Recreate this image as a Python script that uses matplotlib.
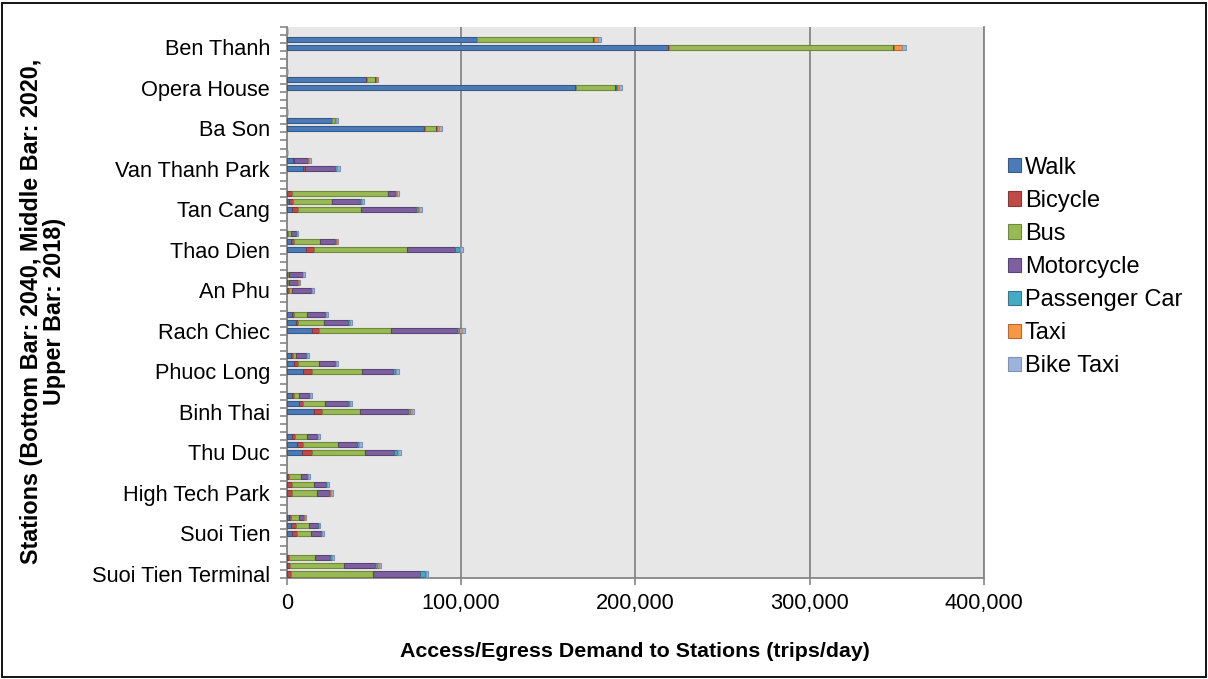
import matplotlib
matplotlib.use("Agg")
import matplotlib.pyplot as plt
from matplotlib.patches import Rectangle
import numpy as np

plt.rcParams['font.family'] = ['Liberation Sans', 'DejaVu Sans']

# ESTACIONES Y MODOS
estaciones = ["Ben Thanh", "Opera House", "Ba Son", "Van Thanh Park", "Tan Cang",
              "Thao Dien", "An Phu", "Rach Chiec", "Phuoc Long", "Binh Thai",
              "Thu Duc", "High Tech Park", "Suoi Tien", "Suoi Tien Terminal"]
anios = ["2018", "2020", "2040"]
modos = ["Walk", "Bicycle", "Bus", "Motorcycle", "Passenger Car", "Taxi", "Bike Taxi"]

# DEMANDA (miles de viajes/dia), por estacion: (2018, 2020, 2040)
walk = [(0, 109, 218.6), (0, 45.5, 165.6), (0, 25.8, 78.8), (0, 3.4, 9.2),
        (0.3, 1.5, 3.0), (0.5, 2.7, 10.9), (0.3, 0.2, 0.3), (3.2, 5.1, 14.5),
        (2.7, 4.2, 9.2), (3.0, 7.1, 15.7), (3.0, 5.7, 8.6), (0.3, 0.3, 0.3),
        (1.3, 2.5, 2.8), (0.2, 0.3, 0.3)]
bicycle = [(0, 0.3, 0.5), (0, 0.3, 0.3), (0, 0.2, 0.3), (0, 0.6, 1.1),
           (2.7, 1.9, 3.7), (0.3, 1.5, 4.6), (0.5, 0.3, 0.8), (1.2, 1.6, 4.2),
           (0.7, 2.3, 5.3), (1.2, 2.4, 4.4), (1.8, 3.6, 5.7), (1.0, 2.6, 2.7),
           (1.2, 2.6, 2.9), (0.9, 1.6, 2.2)]
bus = [(0, 66.5, 128.7), (0, 5.0, 22.6), (0, 1.5, 6.7), (0, 0.2, 0.3),
       (55.1, 22.4, 35.9), (1.7, 14.9, 53.5), (0.7, 0.6, 1.7), (7.4, 14.5, 41.1),
       (1.7, 12.2, 28.5), (2.9, 12.3, 22.0), (6.8, 20.1, 30.8), (6.9, 13.0, 14.2),
       (4.6, 7.5, 8.2), (15.1, 31.1, 47.2)]
motorcycle = [(0, 0.3, 0.5), (0, 0.4, 0.5), (0, 0.3, 0.4), (0, 8.0, 17.3),
              (3.9, 16.3, 31.4), (3.0, 8.8, 27.8), (7.7, 5.4, 11.1), (10.0, 14.2, 38.1),
              (6.0, 8.8, 17.8), (5.9, 13.2, 27.7), (6.0, 11.1, 16.5), (3.6, 6.6, 7.3),
              (2.8, 5.2, 5.6), (8.6, 17.6, 26.8)]
car = [(0, 0.3, 0.2), (0, 0.2, 0.3), (0, 0.1, 0.2), (0, 0.3, 0.8),
       (0.9, 1.1, 1.1), (0.2, 0.6, 1.9), (0.3, 0.2, 0.6), (0.5, 0.7, 1.1),
       (0.3, 0.8, 1.2), (0.3, 0.9, 1.1), (0.3, 1.0, 1.5), (0.3, 0.6, 0.6),
       (0.3, 0.5, 0.6), (1.2, 1.4, 3.0)]
taxi = [(0, 2.0, 4.3), (0, 0.5, 1.2), (0, 0.6, 1.2), (0, 0.2, 0.3),
        (0.3, 0.2, 1.0), (0.1, 0.2, 0.9), (0.1, 0.1, 0.2), (0.2, 0.2, 1.4),
        (0.1, 0.2, 0.9), (0.1, 0.2, 1.0), (0.2, 0.2, 1.0), (0.1, 0.2, 0.2),
        (0.1, 0.1, 0.1), (0.1, 0.8, 0.4)]
bike_taxi = [(0, 1.8, 2.6), (0, 0.5, 1.9), (0, 0.9, 1.3), (0, 1.0, 1.3),
             (1.3, 1.1, 1.3), (0.6, 0.7, 1.7), (0.8, 0.7, 0.7), (1.0, 1.0, 1.9),
             (1.1, 0.9, 1.5), (0.9, 1.2, 1.3), (1.2, 1.3, 1.3), (1.2, 1.1, 1.1),
             (1.0, 0.9, 1.0), (1.2, 1.3, 1.4)]

colores = ['#4A7BB7', '#BE4B48', '#98B954', '#7D60A0', '#46AAC5', '#F79646', '#9DB3D9']
bordes = ['#34598A', '#8C3533', '#6E8A3A', '#594475', '#32798F', '#B86A2C', '#7F93B5']

datos = [walk, bicycle, bus, motorcycle, car, taxi, bike_taxi]

# POSICIONES: 5 ranuras por estacion (3 barras + 2 vacias)
slot = 5
fig = plt.figure(figsize=(12.08, 6.79), dpi=100)
ax = fig.add_axes([286.7 / 1208, 1 - 578 / 679, (984 - 286.7) / 1208, (578 - 27) / 679])
ax.set_facecolor('#E7E7E7')

for k in range(len(anios)):
    y = np.arange(len(estaciones)) * slot + k
    izquierda = np.zeros(len(estaciones))
    for m in range(len(modos)):
        valores = np.array([d[k] for d in datos[m]]) * 1000
        ax.barh(y, valores, left=izquierda, height=0.64, color=colores[m],
                edgecolor=bordes[m], linewidth=0.8,
                label=modos[m] if k == 0 else None, zorder=3)
        izquierda += valores

n = len(estaciones)
ax.set_ylim((n - 1) * slot + 2.5, -0.5)
ax.set_xlim(0, 400000)
ax.set_yticks(np.arange(n) * slot + 2)
ax.set_yticklabels(estaciones, fontsize=15.7)
ax.set_yticks(np.arange(-0.5, (n - 1) * slot + 3, 1), minor=True)
ax.tick_params(axis='y', which='major', length=0, pad=12)
ax.tick_params(axis='y', which='minor', length=5, width=1.2, color='#868686', direction='out')
ax.set_xticks([0, 100000, 200000, 300000, 400000])
ax.set_xticklabels([f"{v:,}" for v in [0, 100000, 200000, 300000, 400000]], fontsize=15.7)
ax.tick_params(axis='x', length=5, width=1.2, color='#868686', pad=6)

ax.grid(axis='x', color='#868686', linewidth=1.3, zorder=1)
ax.set_axisbelow(True)
ax.spines['top'].set_visible(False)
for lado in ['left', 'bottom', 'right']:
    ax.spines[lado].set_color('#868686')
    ax.spines[lado].set_linewidth(1.3)

ax.set_xlabel("Access/Egress Demand to Stations (trips/day)", fontsize=15.4,
              fontweight='bold', labelpad=20)
fig.text(43 / 1208, 1 - 311 / 679,
         "Stations (Bottom Bar: 2040, Middle Bar: 2020,\nUpper Bar: 2018)",
         rotation=90, fontsize=16.8, fontweight='bold', ha='center', va='center',
         multialignment='center', linespacing=0.95)

# LEYENDA
fig.legend(loc='center left', bbox_to_anchor=(999 / 1208, 1 - 267 / 679),
           fontsize=17, frameon=False, handlelength=0.55, handleheight=0.55,
           handletextpad=0.15, labelspacing=0.47, borderaxespad=0)

# MARCO
fig.patches.append(Rectangle((0.002, 0.003), 0.996, 0.993, transform=fig.transFigure,
                             fill=False, edgecolor='black', linewidth=1.3))

fig.savefig("out.png", dpi=100)
